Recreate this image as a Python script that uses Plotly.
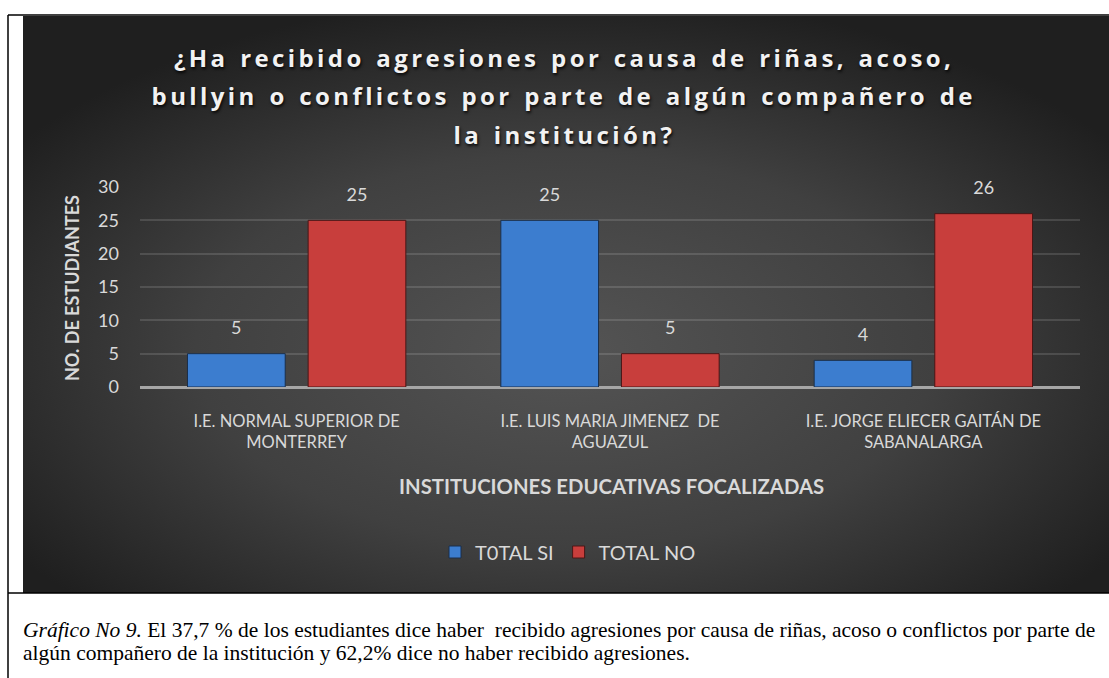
import base64
import json
import plotly.graph_objects as go

# Data
instituciones = [
    "I.E. NORMAL SUPERIOR DE<br>MONTERREY",
    "I.E. LUIS MARIA JIMENEZ  DE<br>AGUAZUL",
    "I.E. JORGE ELIECER GAITÁN DE<br>SABANALARGA",
]
total_si = [5, 25, 4]
total_no = [25, 5, 26]
series_names = ["T0TAL SI", "TOTAL NO"]
y_ticks = [0, 5, 10, 15, 20, 25, 30]

title_lines = [
    "¿Ha recibido agresiones por causa de riñas, acoso,",
    "bullyin o conflictos por parte de algún compañero de",
    "la institución?",
]
caption_lines = [
    "<i>Gráfico No 9.</i> El 37,7 % de los estudiantes dice haber  recibido agresiones por causa de riñas, acoso o conflictos por parte de",
    "algún compañero de la institución y 62,2% dice no haber recibido agresiones.",
]

W, H = 1109, 678
L, R, T, B = 140, 1080, 187, 387  # plot area in pixels


def px(x):
    return (x - L) / (R - L)


def py(y):
    return (B - y) / (B - T)


TXT = "#d9d9d9"
FONT = "Lato"
colors = ["#3c7dcf", "#c83e3c"]
edges = ["#1b2f4a", "#4a1616"]

fig = go.Figure()
for name, vals, c, e in zip(series_names, [total_si, total_no], colors, edges):
    fig.add_trace(go.Bar(
        x=instituciones, y=vals, name=name, offsetgroup=name,
        marker=dict(color=c, line=dict(color=e, width=1)),
    ))
# value labels a little above the bars
for name, vals in zip(series_names, [total_si, total_no]):
    fig.add_trace(go.Scatter(
        x=instituciones, y=vals, mode="markers+text", offsetgroup=name,
        text=[str(v) for v in vals], textposition="top center",
        marker=dict(size=22, opacity=0), showlegend=False, hoverinfo="skip",
        textfont=dict(color=TXT, size=18, family=FONT), cliponaxis=False,
    ))

# dark radial background for the chart box
svg = ('<svg xmlns="http://www.w3.org/2000/svg" width="1086" height="577">'
       '<defs><radialGradient id="g" cx="50%" cy="58%" r="62%">'
       '<stop offset="0" stop-color="#545454"/><stop offset="0.55" stop-color="#404040"/>'
       '<stop offset="1" stop-color="#1f1f1f"/></radialGradient></defs>'
       '<rect width="1086" height="577" fill="url(#g)"/></svg>')
bg = "data:image/svg+xml;base64," + base64.b64encode(svg.encode()).decode()

annotations = []
for i, line in enumerate(title_lines):
    annotations.append(dict(
        text="<b>" + line + "</b>", xref="paper", yref="paper",
        x=px(564), y=py(57 + 38.5 * i), xanchor="center", yanchor="middle",
        showarrow=False,
        font=dict(family="Open Sans", size=24, color="#f2f2f2",
                  shadow="1px 2px 3px rgba(0,0,0,0.85)"),
    ))
annotations.append(dict(
    text="<b>NO. DE ESTUDIANTES</b>", xref="paper", yref="paper",
    x=px(72), y=py(288), textangle=-90, showarrow=False,
    xanchor="center", yanchor="middle",
    font=dict(family=FONT, size=18, color=TXT),
))
annotations.append(dict(
    text="<b>INSTITUCIONES EDUCATIVAS FOCALIZADAS</b>", xref="paper", yref="paper",
    x=px(611), y=py(486), showarrow=False, xanchor="center", yanchor="middle",
    font=dict(family=FONT, size=20.3, color=TXT),
))
for i, line in enumerate(caption_lines):
    annotations.append(dict(
        text=line, xref="paper", yref="paper", x=px(21), y=py(630 + 22.5 * i),
        xanchor="left", yanchor="middle", showarrow=False, align="left",
        font=dict(family="Liberation Serif", size=21.5, color="#000000"),
    ))

border = dict(color="#000000", width=1.5)
shapes = [
    dict(type="line", xref="paper", yref="paper", x0=px(8), x1=px(8), y0=py(15), y1=py(678), line=border),
    dict(type="line", xref="paper", yref="paper", x0=px(8), x1=px(1110), y0=py(15), y1=py(15), line=border),
    dict(type="line", xref="paper", yref="paper", x0=px(8), x1=px(1110), y0=py(593), y1=py(593), line=border),
]

fig.update_layout(
    width=W, height=H,
    margin=dict(l=L, r=W - R, t=T, b=H - B, pad=0),
    paper_bgcolor="white", plot_bgcolor="rgba(0,0,0,0)",
    barmode="group", bargap=0.23, bargroupgap=0.19,
    scattermode="group", scattergap=0.23,
    showlegend=True,
    legend=dict(orientation="h", x=px(568), y=py(552), xanchor="center", yanchor="middle",
                font=dict(family=FONT, size=20, color=TXT), bgcolor="rgba(0,0,0,0)",
                traceorder="normal"),
    images=[dict(source=bg, xref="paper", yref="paper", x=px(23), y=py(16),
                 sizex=1086 / (R - L), sizey=577 / (B - T), sizing="stretch",
                 xanchor="left", yanchor="top", layer="below")],
    annotations=annotations,
    shapes=shapes,
    font=dict(family=FONT, color=TXT),
)
fig.update_xaxes(
    tickfont=dict(family=FONT, size=16.5, color=TXT), showgrid=False,
    showline=False, ticks="", ticklabelstandoff=22,
)
fig.update_yaxes(
    range=[0, 30], tickvals=y_ticks, showgrid=True,
    gridcolor="rgba(255,255,255,0.13)", gridwidth=1.5,
    zeroline=True, zerolinecolor="#a6a6a6", zerolinewidth=2.5,
    tickfont=dict(family=FONT, size=18, color=TXT), ticklabelstandoff=20,
    showline=False, ticks="",
)

post = ("document.body.style.margin='0';"
        "var L=%s;document.querySelectorAll('.annotation-text').forEach(function(t){"
        "if(L.indexOf(t.textContent)>=0){t.style.letterSpacing='3.4px';t.style.wordSpacing='2px';}});"
        % json.dumps(title_lines))
fig.write_html("out.html", post_script=post, config={"displayModeBar": False})
